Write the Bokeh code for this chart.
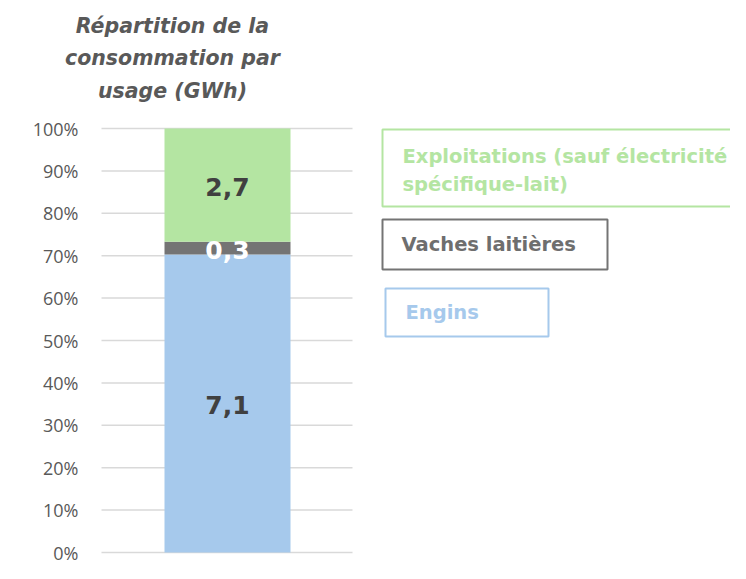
import numpy as np
from bokeh.plotting import figure
from bokeh.models import Range1d
from bokeh.core.properties import value
from bokeh.embed import file_html
from bokeh.resources import INLINE

# ---- data ----
categories = ["Engins", "Vaches laitières", "Exploitations (sauf électricité\nspécifique-lait)"]
values_gwh = [7.1, 0.3, 2.7]
bar_colors = ["#A6C9EC", "#747474", "#B4E5A2"]
label_colors = ["#404040", "#FFFFFF", "#404040"]
legend_text_colors = ["#A6C9EC", "#6E6E6E", "#B4E5A2"]
legend_border_colors = ["#A6C9EC", "#747474", "#B4E5A2"]
y_ticks = list(range(0, 101, 10))
title_lines = ["Répartition de la", "consommation par", "usage (GWh)"]

FONT = "DejaVu Sans"
TICK_FONT = "Open Sans"

# ---- layout ----
W, H = 730, 563
PX_PER_X = 126.0          # pixels per x unit (bar width = 1 unit)
BAR_CX = 227.0            # bar centre, figure px
Y0_PX, Y100_PX = 552.0, 128.0
PX_PER_PCT = (Y0_PX - Y100_PX) / 100.0
OFF = 1.0                 # reference page px -> figure px

def px_x(p):
    return (p - OFF - BAR_CX) / PX_PER_X
def px_y(p):
    return (Y0_PX - (p - OFF)) / PX_PER_PCT

p = figure(width=W, height=H, output_backend="svg", toolbar_location=None,
           min_border=0,
           x_range=Range1d(-BAR_CX / PX_PER_X, (W - BAR_CX) / PX_PER_X),
           y_range=Range1d(-(H - Y0_PX) / PX_PER_PCT, Y0_PX / PX_PER_PCT))
p.outline_line_color = None
p.background_fill_color = "white"
p.border_fill_color = "white"
p.xgrid.visible = False
p.ygrid.visible = False
p.xaxis.visible = False
p.yaxis.visible = False

# gridlines (behind the bar)
yt = np.array(y_ticks, dtype=float)
p.segment(x0=[px_x(102)] * len(yt), x1=[px_x(353)] * len(yt), y0=yt, y1=yt,
          line_color="#D9D9D9", line_width=1.5)

# y tick labels
p.text(x=[px_x(79)] * len(yt), y=yt, text=[f"{t}%" for t in y_ticks],
       text_font=value(TICK_FONT), text_font_size="18px", text_color="#595959",
       text_align="right", text_baseline="middle")

# stacked 100% bar
vals = np.array(values_gwh)
pct = vals / vals.sum() * 100
tops = np.cumsum(pct)
bottoms = tops - pct
p.vbar(x=[0.0] * len(vals), width=1.0, bottom=bottoms, top=tops,
       fill_color=bar_colors, line_color=None)

# data labels
mids = (tops + bottoms) / 2
txt = [f"{v:.1f}".replace(".", ",") for v in vals]
p.text(x=[0.0] * len(vals), y=mids, text=txt, text_color=label_colors,
       text_font=value(FONT), text_font_style="bold", text_font_size="25px",
       text_align="center", text_baseline="middle", y_offset=2)

# title
p.text(x=[px_x(173)] * 3, y=[px_y(b) for b in (26, 58.5, 91)], text=title_lines,
       text_font=value(FONT), text_font_style="bold italic",
       text_font_size="20.5px", text_color="#595959",
       text_align="center", text_baseline="alphabetic")

# legend boxes (text boxes)
box_left = [px_x(386), px_x(383), px_x(383)]
box_right = [px_x(549), px_x(608), px_x(800)]
box_top = [px_y(289), px_y(220), px_y(130)]
box_bottom = [px_y(337), px_y(270), px_y(207)]
p.quad(left=box_left, right=box_right, top=box_top, bottom=box_bottom,
       fill_color=None, line_color=legend_border_colors, line_width=2)

# legend texts, one glyph per line
text_x0 = [406, 402, 403]
text_y0 = [313, 245, 157]
lx, ly, lt, lc = [], [], [], []
for cat, x0, y0, col in zip(categories, text_x0, text_y0, legend_text_colors):
    for j, line in enumerate(cat.split("\n")):
        lx.append(px_x(x0))
        ly.append(px_y(y0 + 28 * j))
        lt.append(line)
        lc.append(col)
p.text(x=lx, y=ly, text=lt, text_color=lc,
       text_font=value(FONT), text_font_style="bold", text_font_size="19.5px",
       text_align="left", text_baseline="middle")

open("out.html", "w").write(file_html(p, INLINE))
